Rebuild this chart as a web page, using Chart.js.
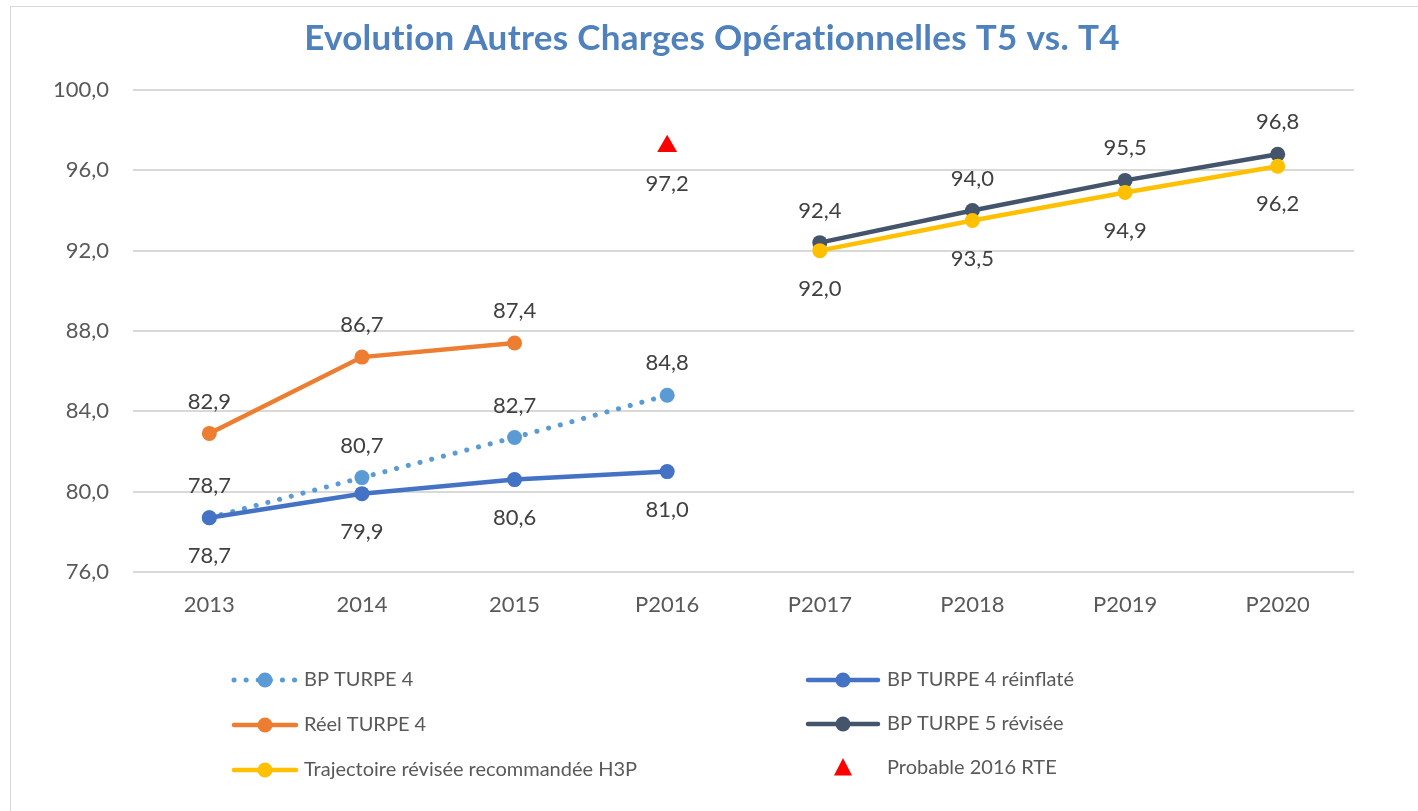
<!DOCTYPE html>
<html>
<head>
<meta charset="utf-8">
<script src="https://cdn.jsdelivr.net/npm/chart.js@4.4.0/dist/chart.umd.min.js"></script>
<style>
html,body{margin:0;padding:0;background:#fff;overflow:hidden;}
#cadre{position:absolute;left:10px;top:6px;width:1430px;height:830px;border:1.5px solid #d9d9d9;}
#wrap{position:absolute;left:0;top:0;width:1418px;height:811px;}
</style>
</head>
<body>
<div id="cadre"></div>
<div id="wrap"><canvas id="grafica"></canvas></div>
<script>
const CATEGORIES = ["2013","2014","2015","P2016","P2017","P2018","P2019","P2020"];
const BP_TURPE4 = [78.7, 80.7, 82.7, 84.8, null, null, null, null];
const BP_TURPE4_REINF = [78.7, 79.9, 80.6, 81.0, null, null, null, null];
const REEL_TURPE4 = [82.9, 86.7, 87.4, null, null, null, null, null];
const BP_TURPE5 = [null, null, null, null, 92.4, 94.0, 95.5, 96.8];
const TRAJ_H3P = [null, null, null, null, 92.0, 93.5, 94.9, 96.2];
const PROBABLE_RTE = [null, null, null, 97.2, null, null, null, null];
const Y_MIN = 76, Y_MAX = 100, Y_STEP = 4;

const POLICE = "Lato, 'Open Sans', sans-serif";
const GRIS = "#595959";
const fmt = v => v.toFixed(1).replace(".", ",");

// position of the value label for each serie
const POS_ETIQ = ["above","below","above","above","below","below"];

const etiquettes = {
    id: "etiquettes",
    afterDatasetsDraw(chart){
        const ctx = chart.ctx;
        ctx.save();
        ctx.font = "22px " + POLICE;
        ctx.fillStyle = "#404040";
        ctx.textAlign = "center";
        ctx.textBaseline = "middle";
        chart.data.datasets.forEach((ds, i) => {
            const meta = chart.getDatasetMeta(i);
            meta.data.forEach((pt, j) => {
                const v = ds.data[j];
                if (v == null) return;
                const dy = POS_ETIQ[i] === "above" ? -32 : 38;
                ctx.fillText(fmt(v), pt.x, pt.y + dy);
            });
        });
        ctx.restore();
    }
};

const titre = {
    id: "titre",
    afterDraw(chart){
        const ctx = chart.ctx;
        ctx.save();
        ctx.font = "bold 35px " + POLICE;
        ctx.letterSpacing = "0.3px";
        ctx.fillStyle = "#4F81BD";
        ctx.textAlign = "center";
        ctx.textBaseline = "alphabetic";
        ctx.fillText("Evolution Autres Charges Opérationnelles T5 vs. T4", 712, 50);
        ctx.restore();
    }
};

const legende = {
    id: "legende",
    afterDraw(chart){
        const ctx = chart.ctx;
        const ds = chart.data.datasets;
        const places = [
            {x1:232, x2:298, tx:304, y:680},
            {x1:806, x2:880, tx:887, y:680},
            {x1:232, x2:298, tx:304, y:725},
            {x1:806, x2:880, tx:887, y:724},
            {x1:232, x2:298, tx:304, y:770},
            {x1:806, x2:880, tx:887, y:768}
        ];
        ctx.save();
        ds.forEach((d, i) => {
            const p = places[i];
            const cx = (p.x1 + p.x2) / 2;
            if (d.showLine !== false) {
                ctx.beginPath();
                ctx.strokeStyle = d.borderColor;
                ctx.lineWidth = d.borderWidth;
                ctx.lineCap = "round";
                ctx.setLineDash(d.borderDash || []);
                ctx.moveTo(p.x1 + 2, p.y);
                ctx.lineTo(p.x2 - 2, p.y);
                ctx.stroke();
                ctx.setLineDash([]);
                ctx.beginPath();
                ctx.fillStyle = d.pointBackgroundColor;
                ctx.arc(cx, p.y, d.pointRadius, 0, Math.PI * 2);
                ctx.fill();
            } else {
                const r = 10;
                ctx.beginPath();
                ctx.fillStyle = d.pointBackgroundColor;
                ctx.moveTo(cx, p.y - r);
                ctx.lineTo(cx + r * 0.9, p.y + r * 0.75);
                ctx.lineTo(cx - r * 0.9, p.y + r * 0.75);
                ctx.closePath();
                ctx.fill();
            }
            ctx.font = "20px " + POLICE;
            ctx.fillStyle = GRIS;
            ctx.textAlign = "left";
            ctx.textBaseline = "middle";
            ctx.fillText(d.label, p.tx, p.y);
        });
        ctx.restore();
    }
};

function serie(label, data, color, order, extra){
    return Object.assign({
        label: label,
        data: data,
        borderColor: color,
        backgroundColor: color,
        pointBackgroundColor: color,
        pointBorderColor: color,
        borderWidth: 4.5,
        pointRadius: 7.5,
        pointHoverRadius: 7.5,
        pointBorderWidth: 0,
        spanGaps: false,
        order: order
    }, extra || {});
}

window.onload = () => {
    const ctx = document.getElementById("grafica").getContext("2d");
    new Chart(ctx, {
        type: "line",
        data: {
            labels: CATEGORIES,
            datasets: [
                serie("BP TURPE 4", BP_TURPE4, "#5B9BD5", 4, {borderDash:[0.1, 12], borderCapStyle:"round", borderWidth:5}),
                serie("BP TURPE 4 réinflaté", BP_TURPE4_REINF, "#4472C4", 3),
                serie("Réel TURPE 4", REEL_TURPE4, "#ED7D31", 5),
                serie("BP TURPE 5 révisée", BP_TURPE5, "#44546A", 2),
                serie("Trajectoire révisée recommandée H3P", TRAJ_H3P, "#FFC000", 1),
                serie("Probable 2016 RTE", PROBABLE_RTE, "#FF0000", 0, {showLine:false, pointStyle:"triangle", pointRadius:11.5, pointHoverRadius:11.5})
            ]
        },
        options: {
            responsive: true,
            maintainAspectRatio: false,
            animation: false,
            events: [],
            layout: { padding: { left: 10, right: 64, top: 90, bottom: 179 } },
            scales: {
                x: {
                    offset: true,
                    grid: { display: false, drawTicks: false },
                    border: { display: false },
                    ticks: { color: GRIS, font: { family: POLICE, size: 22 }, padding: 20, maxRotation: 0 },
                    afterFit: s => { s.height = 60; }
                },
                y: {
                    min: Y_MIN, max: Y_MAX,
                    grid: { color: "#d9d9d9", lineWidth: 2, drawTicks: false },
                    border: { display: false },
                    ticks: { stepSize: Y_STEP, color: GRIS, font: { family: POLICE, size: 22 }, padding: 24, callback: v => fmt(v) },
                    afterFit: s => { s.width = 123; }
                }
            },
            plugins: {
                legend: { display: false },
                tooltip: { enabled: false }
            }
        },
        plugins: [etiquettes, titre, legende]
    });
};
</script>
</body>
</html>
